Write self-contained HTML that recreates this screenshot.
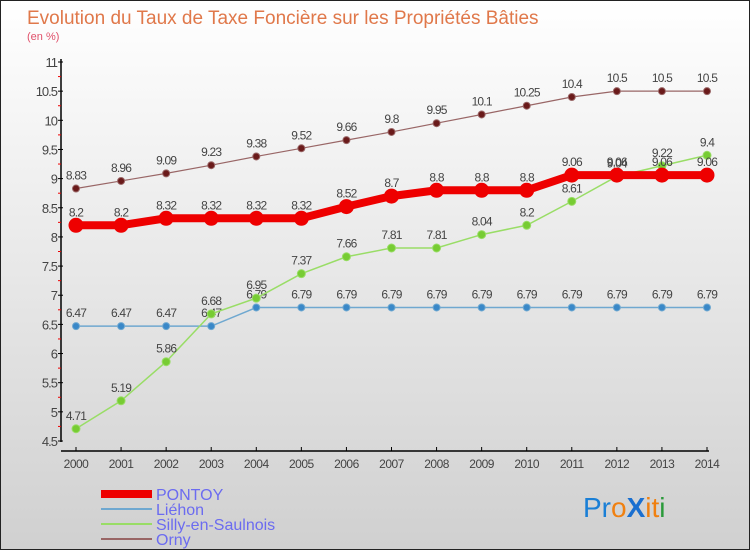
<!DOCTYPE html>
<html><head><meta charset="utf-8"><style>
html,body{margin:0;padding:0}
body{width:750px;height:550px;overflow:hidden;font-family:"Liberation Sans",sans-serif}
#wrap{position:relative;width:748px;height:548px;border:1px solid #222;background:linear-gradient(#ffffff,#d0d0d0)}
</style></head><body>
<div id="wrap">
<svg id="svg" width="748" height="548" xmlns="http://www.w3.org/2000/svg">
<text x="26" y="23" font-size="19" fill="#e0784a">Evolution du Taux de Taxe Foncière sur les Propriétés Bâties</text>
<text x="26" y="39" font-size="11" fill="#e0506a">(en %)</text>
<g id="axes"></g><g id="series"></g>
<g>
<rect x="100" y="489" width="51" height="8" fill="#ee0000"/>
<text x="155" y="499" font-size="16" fill="#6b6bf0">PONTOY</text>
<rect x="100" y="507" width="51" height="2" fill="#6fa8d0"/>
<text x="155" y="514" font-size="16" fill="#6b6bf0">Liéhon</text>
<rect x="100" y="522" width="51" height="2" fill="#99dd66"/>
<text x="155" y="529" font-size="16" fill="#6b6bf0">Silly-en-Saulnois</text>
<rect x="100" y="537" width="51" height="2" fill="#996666"/>
<text x="155" y="544" font-size="16" fill="#6b6bf0">Orny</text>
</g>
<g font-size="28" font-family="Liberation Sans, sans-serif">
<text x="582" y="516"><tspan fill="#1a7fd6">Pr</tspan><tspan fill="#f08010">o</tspan><tspan fill="#1a6fd0" font-weight="bold">X</tspan><tspan fill="#f08010">it</tspan><tspan fill="#2a9a3a">i</tspan></text>
</g>
</svg></div>
<script>
const years=[2000,2001,2002,2003,2004,2005,2006,2007,2008,2009,2010,2011,2012,2013,2014];
const pontoy=[8.2,8.2,8.32,8.32,8.32,8.32,8.52,8.7,8.8,8.8,8.8,9.06,9.06,9.06,9.06];
const liehon=[6.47,6.47,6.47,6.47,6.79,6.79,6.79,6.79,6.79,6.79,6.79,6.79,6.79,6.79,6.79];
const silly=[4.71,5.19,5.86,6.68,6.95,7.37,7.66,7.81,7.81,8.04,8.2,8.61,9.04,9.22,9.4];
const orny=[8.83,8.96,9.09,9.23,9.38,9.52,9.66,9.8,9.95,10.1,10.25,10.4,10.5,10.5,10.5];
const yTicks=["4.5","5","5.5","6","6.5","7","7.5","8","8.5","9","9.5","10","10.5","11"];
const NS="http://www.w3.org/2000/svg";
const X=i=>75+i*(706-75)/(years.length-1);
const Y=v=>61+(11-v)*(440-61)/6.5;
function mk(t,a,p){const e=document.createElementNS(NS,t);for(const k in a)e.setAttribute(k,a[k]);p.appendChild(e);return e;}
const ax=document.getElementById('axes');
let e=mk('line',{x1:60,y1:58,x2:60,y2:441,stroke:'#000','stroke-width':1.5},ax);


e=mk('line',{x1:60,y1:450,x2:708,y2:450,stroke:'#000','stroke-width':1.5},ax);


yTicks.forEach(t=>{const v=+t,y=Y(v);
mk('line',{x1:57,y1:y,x2:62,y2:y,stroke:'#000'},ax);
if(v<11)mk('line',{x1:57,y1:Y(v+0.25),x2:60,y2:Y(v+0.25),stroke:'#e00'},ax);
const tx=mk('text',{x:56,y:y+5,'text-anchor':'end','font-size':13,fill:'#444','letter-spacing':'-1'},ax);tx.textContent=t;

});
years.forEach((yr,i)=>{const x=X(i);mk('line',{x1:x,y1:446,x2:x,y2:450,stroke:'#000'},ax);
const tx=mk('text',{x:x,y:467,'text-anchor':'middle','font-size':12,fill:'#444','letter-spacing':'-0.5'},ax);tx.textContent=yr;

});
const sg=document.getElementById('series');
function series(name,data,col,dot,w,r){const g=mk('g',{},sg);


mk('polyline',{points:data.map((v,i)=>X(i)+','+Y(v)).join(' '),fill:'none',stroke:col,'stroke-width':w},g);
data.forEach((v,i)=>{const c=mk('circle',{cx:X(i),cy:Y(v),r:r,fill:dot,stroke:col,'stroke-width':1},g);


const t=mk('text',{x:X(i),y:Y(v)-9,'text-anchor':'middle','font-size':12,fill:'#444','letter-spacing':'-0.8'},g);t.textContent=v;

});}
series('liehon',liehon,'#6fa8d0','#3a88c8',1.5,3.5);
series('silly',silly,'#99dd66','#77cc33',1.5,4);
series('orny',orny,'#996666','#6a1a1a',1.2,3.5);
series('pontoy',pontoy,'#ee0000','#ee0000',8,7);
</script>
</body></html>
